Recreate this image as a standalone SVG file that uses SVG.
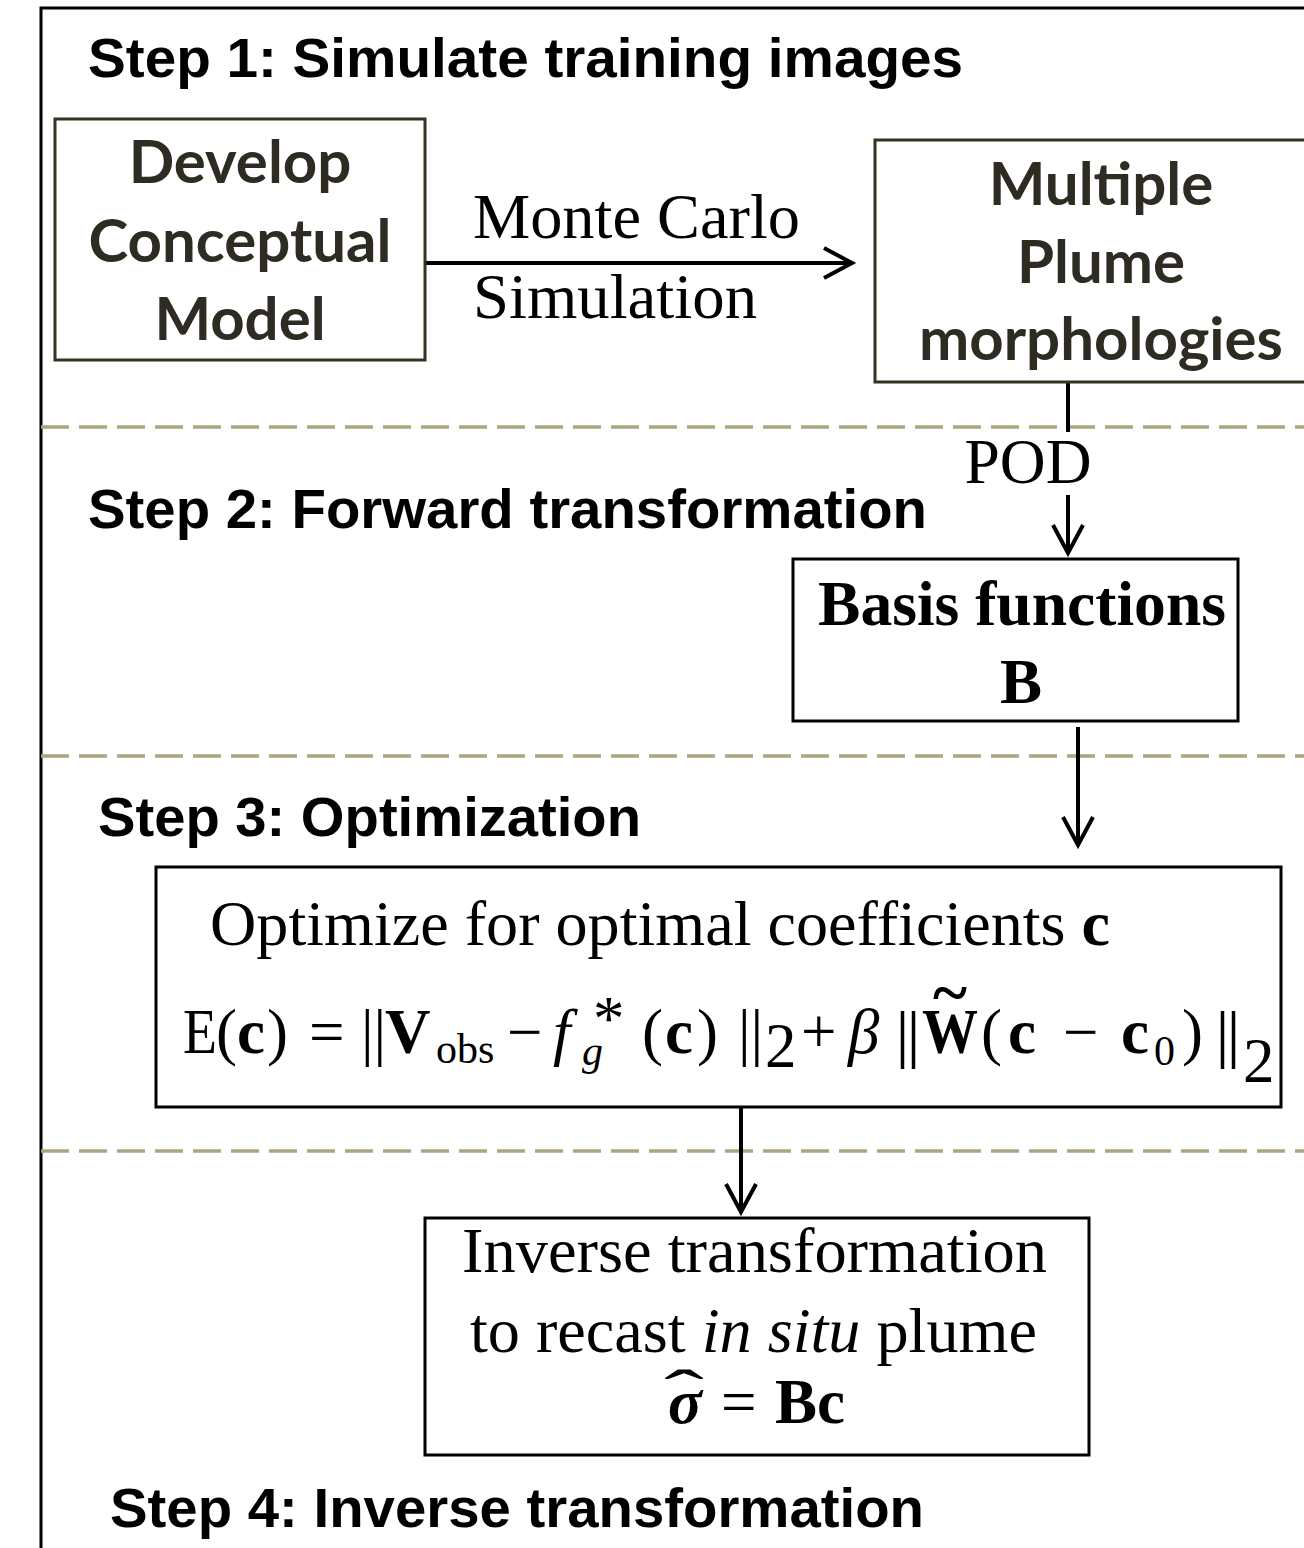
<svg xmlns="http://www.w3.org/2000/svg" width="1304" height="1548" viewBox="0 0 1304 1548">
<style>
.step{font-family:"Liberation Sans",Arial,sans-serif;font-weight:bold;font-size:56px;fill:#000}
.cal{font-family:Lato,"Open Sans",sans-serif;font-weight:bold;font-size:60px;fill:#2e2b22;text-anchor:middle}
.tm{font-family:"Liberation Serif","Times New Roman",serif;font-size:63px;fill:#000}
.b{font-weight:bold}
.i{font-style:italic}
.sub{font-size:42px}
.box1{fill:#fff;stroke:#35321f;stroke-width:3}
.box{fill:#fff;stroke:#000;stroke-width:3}
.dash{stroke:#a9a57f;stroke-width:3.5;stroke-dasharray:28 10;fill:none}
.con{stroke:#000;stroke-width:4;fill:none}
</style>
<defs>
<marker id="ah" markerUnits="userSpaceOnUse" markerWidth="40" markerHeight="40" viewBox="-4 -4 40 40" refX="28" refY="15" orient="auto">
<path d="M0,0 L28,15 L0,30" fill="none" stroke="#000" stroke-width="4"/>
</marker>
</defs>
<rect width="1304" height="1548" fill="#fff"/>
<g id="frame">
<path d="M41,1548 V8 H1304" fill="none" stroke="#000" stroke-width="3"/>
<line class="dash" x1="41" y1="427" x2="1304" y2="427"/>
<line class="dash" x1="41" y1="756" x2="1304" y2="756"/>
<line class="dash" x1="41" y1="1151" x2="1304" y2="1151"/>
</g>
<g id="labels">
<text class="step" x="88" y="77" textLength="875" lengthAdjust="spacingAndGlyphs">Step 1: Simulate training images</text>
<text class="step" x="88" y="528" textLength="839" lengthAdjust="spacingAndGlyphs">Step 2: Forward transformation</text>
<text class="step" x="98" y="836" textLength="543" lengthAdjust="spacingAndGlyphs">Step 3: Optimization</text>
<text class="step" x="110" y="1527" textLength="814" lengthAdjust="spacingAndGlyphs">Step 4: Inverse transformation</text>
</g>
<g id="connectors">
<line class="con" x1="426" y1="263" x2="852" y2="263" marker-end="url(#ah)"/>
<text class="tm" x="473" y="238" textLength="327" lengthAdjust="spacingAndGlyphs">Monte Carlo</text>
<text class="tm" x="473" y="318" textLength="284" lengthAdjust="spacingAndGlyphs">Simulation</text>
<line class="con" x1="1068" y1="382" x2="1068" y2="432"/>
<text class="tm" x="1028" y="483" text-anchor="middle" textLength="127" lengthAdjust="spacingAndGlyphs">POD</text>
<line class="con" x1="1068" y1="495" x2="1068" y2="553" marker-end="url(#ah)"/>
<line class="con" x1="1078" y1="727" x2="1078" y2="845" marker-end="url(#ah)"/>
<line class="con" x1="741" y1="1107" x2="741" y2="1212" marker-end="url(#ah)"/>
</g>
<g id="develop">
<rect class="box1" x="55" y="119" width="370" height="241"/>
<text class="cal" x="240" y="183">Develop</text>
<text class="cal" x="240" y="262">Conceptual</text>
<text class="cal" x="240" y="340">Model</text>
</g>
<g id="plume">
<rect class="box1" x="875" y="140" width="440" height="242"/>
<text class="cal" x="1101" y="205">Multiple</text>
<text class="cal" x="1101" y="283">Plume</text>
<text class="cal" x="1101" y="360">morphologies</text>
</g>
<g id="basis">
<rect class="box" x="793" y="559" width="445" height="162"/>
<text class="tm b" x="818" y="625" textLength="408" lengthAdjust="spacingAndGlyphs">Basis functions</text>
<text class="tm b" x="1021" y="703" text-anchor="middle">B</text>
</g>
<g id="optimize">
<rect class="box" x="156" y="867" width="1125" height="240"/>
<text class="tm" x="210" y="945" textLength="900" lengthAdjust="spacingAndGlyphs">Optimize for optimal coefficients <tspan class="b">c</tspan></text>
<text class="tm" x="183" y="1053" textLength="34" lengthAdjust="spacingAndGlyphs">E</text>
<text class="tm" y="1053"><tspan x="216">(</tspan><tspan x="237" class="b">c</tspan><tspan x="267">)</tspan><tspan x="309">=</tspan></text>
<text class="tm" x="361" y="1053">||</text>
<text class="tm b" x="385" y="1053">V</text>
<text class="tm sub" x="436" y="1063">obs</text>
<text class="tm" x="507" y="1053">−</text>
<text class="tm i" x="553" y="1053">f</text>
<text class="tm" x="593" y="1040" font-size="34">*</text>
<text class="tm i sub" x="582" y="1065">g</text>
<text class="tm" y="1053"><tspan x="642">(</tspan><tspan x="665" class="b">c</tspan><tspan x="697">)</tspan></text>
<text class="tm" x="738" y="1053">||</text>
<text class="tm" x="765" y="1067" font-size="36">2</text>
<text class="tm" x="801" y="1053">+</text>
<text class="tm i" x="848" y="1053">β</text>
<text class="tm b" x="897" y="1055" font-size="95" textLength="22" lengthAdjust="spacingAndGlyphs">||</text>
<text class="tm b" x="922" y="1053" textLength="56" lengthAdjust="spacingAndGlyphs">W</text>
<text class="tm b" x="933" y="1014" font-size="46" textLength="34" lengthAdjust="spacingAndGlyphs">~</text>
<text class="tm" y="1053"><tspan x="981">(</tspan><tspan x="1008" class="b">c</tspan><tspan x="1063">−</tspan><tspan x="1121" class="b">c</tspan><tspan x="1154" y="1065" class="sub">0</tspan><tspan x="1182" y="1053">)</tspan></text>
<text class="tm b" x="1217" y="1055" font-size="95" textLength="22" lengthAdjust="spacingAndGlyphs">||</text>
<text class="tm" x="1243" y="1082" font-size="50">2</text>
</g>
<g id="inverse">
<rect class="box" x="425" y="1218" width="664" height="237"/>
<text class="tm" x="462" y="1272" textLength="585" lengthAdjust="spacingAndGlyphs">Inverse transformation</text>
<text class="tm" x="470" y="1352" textLength="567" lengthAdjust="spacingAndGlyphs">to recast <tspan class="i">in situ</tspan> plume</text>
<text class="tm b i" x="668" y="1423" font-size="60">σ</text>
<text class="tm" x="664" y="1414" font-size="60" textLength="40" lengthAdjust="spacingAndGlyphs">ˆ</text>
<text class="tm" x="721" y="1423">=</text>
<text class="tm b" x="775" y="1423">Bc</text>
</g>
</svg>
